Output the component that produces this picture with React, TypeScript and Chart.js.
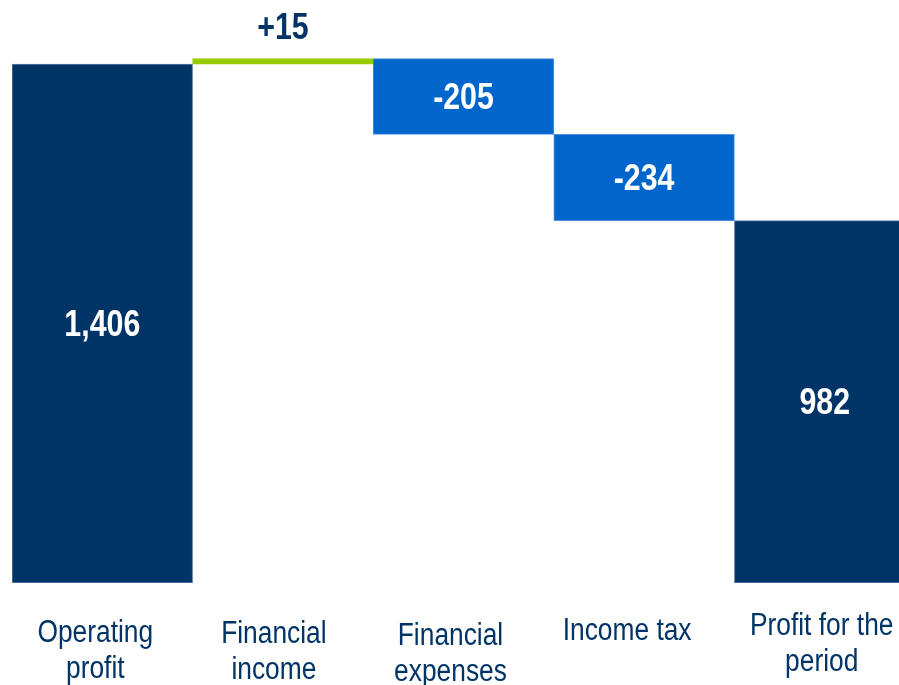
import React, { useEffect, useRef } from "react";
import { Chart, registerables } from "chart.js";

Chart.register(...registerables);

const categories: string[][] = [
  ["Operating", "profit"],
  ["Financial", "income"],
  ["Financial", "expenses"],
  ["Income tax"],
  ["Profit for the", "period"],
];
const values: number[] = [1406, 15, -205, -234, 982];
const isTotal: boolean[] = [true, false, false, false, true];
const valueLabels: string[] = ["1,406", "+15", "-205", "-234", "982"];

// styling: per-category label nudges (x shift, baseline of first line)
const labelShiftX: number[] = [-7, -9, -13, -17, -3];
const labelBaseline: number[] = [642, 643, 645, 640, 635];

const NAVY = "#003366";
const BLUE = "#0066CC";
const GREEN = "#99CC00";
const FONT = "'Liberation Sans', Arial, sans-serif";

function buildRanges(): [number, number][] {
  let running = 0;
  return values.map((v, i) => {
    if (isTotal[i]) {
      running = v;
      return [0, v];
    }
    const start = running;
    running += v;
    return [start, running];
  });
}

function narrowText(ctx: CanvasRenderingContext2D, text: string, x: number, y: number, sx: number) {
  ctx.save();
  ctx.translate(x, y);
  ctx.scale(sx, 1);
  ctx.fillText(text, 0, 0);
  ctx.restore();
}

export default function App() {
  const ref = useRef<HTMLCanvasElement | null>(null);
  useEffect(() => {
    if (!ref.current) return;
    const ranges = buildRanges();
    const colors = values.map((v, i) => (isTotal[i] ? NAVY : v >= 0 ? GREEN : BLUE));
    const borders = values.map((v, i) => (isTotal[i] ? "#5d7fa6" : v >= 0 ? GREEN : "#4a90d9"));

    const labelPlugin = {
      id: "wfLabels",
      afterDatasetsDraw(chart: any) {
        const ctx = chart.ctx as CanvasRenderingContext2D;
        const meta = chart.getDatasetMeta(0);
        ctx.save();
        ctx.textAlign = "center";
        ctx.textBaseline = "middle";
        meta.data.forEach((el: any, i: number) => {
          const top = Math.min(el.y, el.base);
          const bottom = Math.max(el.y, el.base);
          ctx.font = `bold 37px ${FONT}`;
          if (!isTotal[i] && values[i] >= 0) {
            ctx.fillStyle = NAVY;
            narrowText(ctx, valueLabels[i], el.x, top - 30, 0.82);
          } else {
            ctx.fillStyle = "#ffffff";
            narrowText(ctx, valueLabels[i], el.x, (top + bottom) / 2 + 2, 0.82);
          }
        });
        const xs = chart.scales.x;
        ctx.fillStyle = NAVY;
        ctx.font = `31px ${FONT}`;
        ctx.textBaseline = "alphabetic";
        categories.forEach((lines, i) => {
          const x = xs.getPixelForValue(i) + labelShiftX[i];
          lines.forEach((ln, j) => {
            narrowText(ctx, ln, x, labelBaseline[i] + j * 36, 0.85);
          });
        });
        ctx.restore();
      },
    };

    const chart = new Chart(ref.current, {
      type: "bar",
      data: {
        labels: categories.map((c) => c.join(" ")),
        datasets: [
          {
            data: ranges as any,
            backgroundColor: colors,
            borderColor: borders,
            borderWidth: 1,
            borderSkipped: false,
            barPercentage: 1,
            categoryPercentage: 1,
          },
        ],
      },
      options: {
        animation: false,
        responsive: false,
        maintainAspectRatio: false,
        layout: { padding: { left: 12, right: 0, top: 0, bottom: 102 } },
        plugins: { legend: { display: false }, tooltip: { enabled: false } },
        scales: {
          x: { display: false },
          y: { display: false, min: 0, max: 1580 },
        },
      },
      plugins: [labelPlugin],
    });
    return () => chart.destroy();
  }, []);

  return (
    <div
      style={{
        position: "fixed",
        left: 0,
        top: 0,
        width: 899,
        height: 685,
        overflow: "hidden",
        background: "#ffffff",
      }}
    >
      <canvas ref={ref} width={915} height={685} style={{ display: "block" }} />
    </div>
  );
}
